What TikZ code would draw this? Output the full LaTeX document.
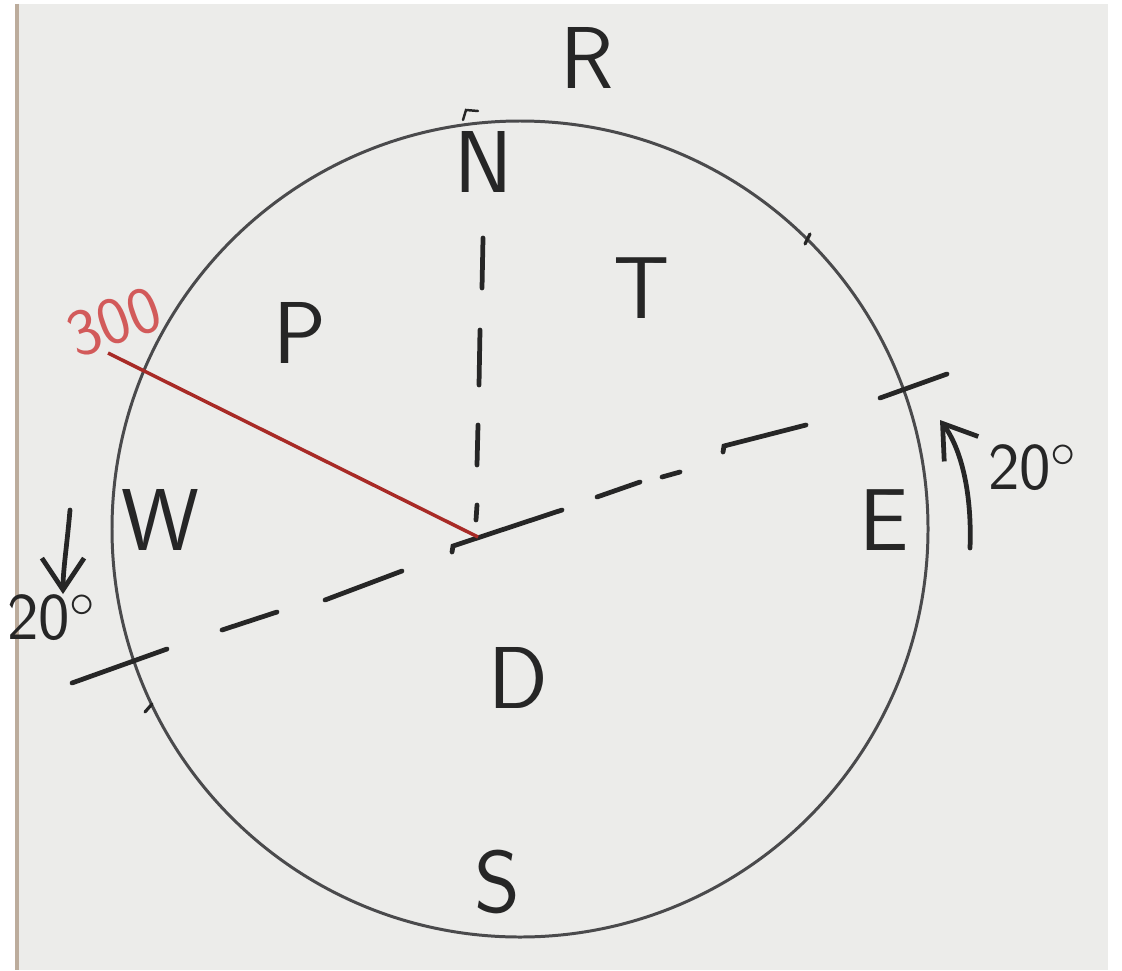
\documentclass[tikz,border=0pt]{standalone}
\usepackage{tikz}
\usetikzlibrary{arrows.meta}
\definecolor{paper}{HTML}{ECECEA}
\definecolor{pen}{HTML}{262626}
\definecolor{rim}{HTML}{4A4A4C}
\definecolor{redpen}{HTML}{A82A26}
\definecolor{redtext}{HTML}{D25A5A}
\begin{document}
\begin{tikzpicture}[x=0.01cm,y=-0.01cm,
  ink/.style={draw=pen,line width=1.35pt,line cap=round},
  rimline/.style={draw=rim,line width=0.85pt},
  lbl/.style={text=pen,font=\sffamily\fontsize{25}{28}\selectfont,inner sep=0pt},
  anglbl/.style={text=pen,font=\sffamily\fontsize{19}{22}\selectfont,inner sep=0pt},
  barb/.style={-{Straight Barb[length=9pt,width=12pt]}}]
\useasboundingbox (0,0) rectangle (1122,970);
\fill[white] (0,0) rectangle (1122,970);
\fill[paper] (17,4) rectangle (1108,970);
\draw[brown!55!black!45,line width=1pt] (17,4) -- (17,970);

% circle
\coordinate (M) at (520,529);
\draw[rimline] (M) circle (408);
\coordinate (O) at (478,537);

% N -- centre, dashed by hand
\draw[ink] (483,238) -- (482,288);
\draw[ink] (480,330) -- (479,385);
\draw[ink] (478,425) -- (477,465);
\draw[ink] (477,505) -- (476,520);

% tilted W -- E line
\draw[ink] (72,683) -- (167,649);
\draw[ink] (222,630) -- (277,612);
\draw[ink] (325,600) -- (402,571);
\draw[ink] (452,552) -- (453,546) -- (562,510);
\draw[ink] (597,497) -- (640,482);
\draw[ink] (662,477) -- (680,472);
\draw[ink] (723,452) -- (724,446) -- (806,425);
\draw[ink] (880,398) -- (947,374);

% small pencil marks on the rim
\draw[ink,line width=0.9pt] (805,244) -- (810,234);
\draw[ink,line width=0.9pt] (145,712) -- (152,704);
\draw[ink,line width=0.7pt] (463,120) -- (466,110) -- (478,111);

% red line
\coordinate (redend) at (108,353);
\draw[draw=redpen,line width=1pt] (O) -- (redend);
\node[text=redtext,font=\sffamily\fontsize{19}{22}\selectfont,rotate=20,inner sep=0pt] (lred) at (114,322) {300};

% labels
\node[lbl] (lR) at (587,58) {R};
\node[lbl] (lN) at (484,162) {N};
\node[lbl] (lT) at (642,288) {T};
\node[lbl] (lP) at (300,333) {P};
\node[lbl] (lW) at (160,520) {W};
\node[lbl] (lE) at (884,520) {E};
\node[lbl] (lD) at (518,678) {D};
\node[lbl] (lS) at (497,882) {S};

% turning arrows
\draw[ink,barb] (70,510) .. controls (67,545) and (63,570) .. (63,594);
\node[anglbl] (lwest) at (52,618) {20$^{\circ}$};
\draw[ink,barb] (970,548) .. controls (972,495) and (962,450) .. (940,420);
\node[anglbl] (least) at (1033,468) {20$^{\circ}$};
\end{tikzpicture}
\end{document}
